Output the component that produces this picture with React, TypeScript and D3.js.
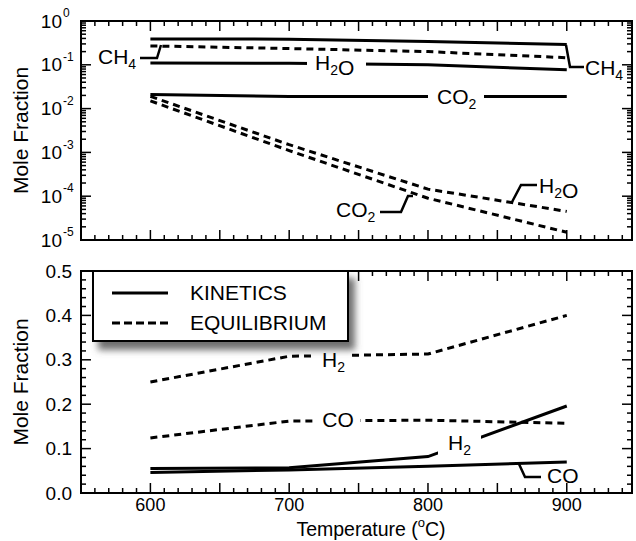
import React from 'react';
import * as d3 from 'd3';

// temperatures (°C) at which the model was evaluated
const temps = [600, 700, 800, 900];

// top panel, log scale
const kinCH4 = [0.39, 0.385, 0.34, 0.29];
const eqCH4 = [0.27, 0.235, 0.2, 0.145];
const kinH2O = [0.11, 0.108, 0.1, 0.077];
const kinCO2 = [0.021, 0.019, 0.019, 0.019];
const eqH2O = [0.019, 1.5e-3, 1.45e-4, 4.5e-5];
const eqCO2 = [0.015, 1.1e-3, 9e-5, 1.5e-5];

// bottom panel, linear scale
const eqH2 = [0.25, 0.308, 0.313, 0.4];
const eqCO = [0.124, 0.162, 0.164, 0.157];
const kinH2 = [0.055, 0.057, 0.082, 0.196];
const kinCO = [0.046, 0.052, 0.06, 0.07];

const xLabels = [600, 700, 800, 900];
const logLabels = [0, -1, -2, -3, -4, -5];
const linLabels = [0, 0.1, 0.2, 0.3, 0.4, 0.5];

const FONT = '"Liberation Sans", Arial, Helvetica, sans-serif';
const L = 81, R = 632;
const T1 = 21, B1 = 240;
const T2 = 271, B2 = 493;
const DASH = '7,5';

const x = d3.scaleLinear().domain([550, 947]).range([L, R]);
const yTop = d3.scaleLog().domain([1e-5, 1]).range([B1, T1]);
const yBot = d3.scaleLinear().domain([0, 0.5]).range([B2, T2]);

const lineFor = (y: any) =>
  d3.line<number>().x((_, i) => x(temps[i])).y(d => y(d));

const Chem = ({ parts, x, y, anchor = 'start' }: any) => (
  <text x={x} y={y} dy="0.35em" fontSize={21} textAnchor={anchor} fontFamily={FONT}>
    {parts.map((p: any, i: number) =>
      typeof p === 'string' ? (
        <tspan key={i}>{p}</tspan>
      ) : (
        <tspan key={i} fontSize={14} dy={5}>{p.sub}</tspan>
      )
    )}
  </text>
);

const Frame = ({ top, bottom, y, log }: any) => {
  const xt = d3.range(560, 947, 10);
  const yt = log ? yTop.ticks() : d3.range(0, 0.501, 0.02);
  const isMajorY = (v: number) =>
    log ? Math.abs(Math.log10(v) - Math.round(Math.log10(v))) < 1e-6 : Math.abs(v * 10 - Math.round(v * 10)) < 1e-6;
  return (
    <g stroke="#000" strokeWidth={1.5}>
      {xt.map(t => {
        const len = t % 50 === 0 ? 10 : 5;
        return (
          <g key={'x' + t}>
            <line x1={x(t)} x2={x(t)} y1={bottom} y2={bottom - len} />
            <line x1={x(t)} x2={x(t)} y1={top} y2={top + len} />
          </g>
        );
      })}
      {yt.map((v: number, i: number) => {
        const len = isMajorY(v) ? 10 : 5;
        return (
          <g key={'y' + i}>
            <line x1={L} x2={L + len} y1={y(v)} y2={y(v)} />
            <line x1={R} x2={R - len} y1={y(v)} y2={y(v)} />
          </g>
        );
      })}
      <rect x={L} y={top} width={R - L} height={bottom - top} fill="none" strokeWidth={2} />
    </g>
  );
};

const Back = ({ x, y, w, h }: any) => <rect x={x} y={y} width={w} height={h} fill="#fff" />;

export default function App() {
  const lt = lineFor(yTop);
  const lb = lineFor(yBot);
  const path = { fill: 'none', stroke: '#000', strokeWidth: 3 } as any;
  const lead = { fill: 'none', stroke: '#000', strokeWidth: 2.5 } as any;

  return (
    <svg width={636} height={541} style={{ display: 'block', position: 'absolute', left: 0, top: 0 }}>
      <defs>
        <filter id="shadow" x="-10%" y="-20%" width="130%" height="160%">
          <feDropShadow dx={6} dy={8} stdDeviation={3.5} floodColor="#555" floodOpacity={0.85} />
        </filter>
      </defs>
      <rect width={636} height={541} fill="#fff" />

      {/* top panel */}
      <path d={lt(kinCH4)!} {...path} />
      <path d={lt(eqCH4)!} {...path} strokeDasharray={DASH} />
      <path d={lt(kinH2O)!} {...path} />
      <path d={lt(kinCO2)!} {...path} />
      <path d={lt(eqH2O)!} {...path} strokeDasharray={DASH} />
      <path d={lt(eqCO2)!} {...path} strokeDasharray={DASH} />
      <Back x={307} y={56} w={59} h={16} />
      <Back x={428} y={89} w={56} h={16} />
      <Chem parts={['CH', { sub: '4' }]} x={98} y={57} />
      <path d="M140,58 L157,58 L161,45" {...lead} />
      <Chem parts={['H', { sub: '2' }, 'O']} x={315} y={63} />
      <Chem parts={['CH', { sub: '4' }]} x={585} y={68} />
      <path d="M584,67 L570,67 L566,45" {...lead} />
      <Chem parts={['CO', { sub: '2' }]} x={437} y={97} />
      <Chem parts={['H', { sub: '2' }, 'O']} x={539} y={186} />
      <path d="M537,185 L521,185 L512,202" {...lead} />
      <Chem parts={['CO', { sub: '2' }]} x={336} y={210} />
      <path d="M380,212 L401,212 L408,196 L413,196" {...lead} />
      <Frame top={T1} bottom={B1} y={yTop} log />

      {/* bottom panel */}
      <path d={lb(eqH2)!} {...path} strokeDasharray={DASH} />
      <path d={lb(eqCO)!} {...path} strokeDasharray={DASH} />
      <path d={lb(kinH2)!} {...path} />
      <path d={lb(kinCO)!} {...path} />
      <Back x={313} y={343} w={38} h={24} />
      <Back x={317} y={410} w={43} h={20} />
      <Back x={438} y={432} w={43} h={24} />
      <Chem parts={['H', { sub: '2' }]} x={322} y={360} />
      <Chem parts={['CO']} x={338} y={420} anchor="middle" />
      <Chem parts={['H', { sub: '2' }]} x={448} y={443} />
      <Chem parts={['CO']} x={547} y={476} />
      <path d="M519,464 L525,477 L541,477" {...lead} />
      <Frame top={T2} bottom={B2} y={yBot} />

      {/* legend */}
      <rect x={93} y={271} width={255} height={70} fill="#fff" stroke="#000" strokeWidth={2} filter="url(#shadow)" />
      <line x1={112} x2={168} y1={293} y2={293} stroke="#000" strokeWidth={3} />
      <line x1={112} x2={168} y1={323} y2={323} stroke="#000" strokeWidth={3} strokeDasharray="8,4" />
      <text x={190} y={293} dy="0.35em" fontSize={21} fontFamily={FONT}>KINETICS</text>
      <text x={190} y={323} dy="0.35em" fontSize={21} fontFamily={FONT}>EQUILIBRIUM</text>

      {/* axis labels */}
      <g fontFamily={FONT} fontSize={19}>
        {logLabels.map(p => (
          <g key={p}>
            <text x={62} y={yTop(Math.pow(10, p))} dy="0.35em" textAnchor="end">10</text>
            <text x={63} y={yTop(Math.pow(10, p)) - 8} dy="0.35em" fontSize={12}>{p === 0 ? '0' : '-' + -p}</text>
          </g>
        ))}
        {linLabels.map(v => (
          <text key={v} x={72} y={yBot(v)} dy="0.35em" textAnchor="end">{v.toFixed(1)}</text>
        ))}
        {xLabels.map(t => (
          <text key={t} x={x(t)} y={511} fontSize={18} textAnchor="middle">{t}</text>
        ))}
      </g>
      <g fontFamily={FONT} fontSize={21}>
        <text transform={`translate(28,${(T1 + B1) / 2}) rotate(-90)`} textAnchor="middle">Mole Fraction</text>
        <text transform={`translate(28,${(T2 + B2) / 2}) rotate(-90)`} textAnchor="middle">Mole Fraction</text>
        <text x={371} y={536} fontSize={19.5} textAnchor="middle">
          Temperature (<tspan fontSize={13} dy={-9}>o</tspan><tspan dy={9}>C)</tspan>
        </text>
      </g>
    </svg>
  );
}
